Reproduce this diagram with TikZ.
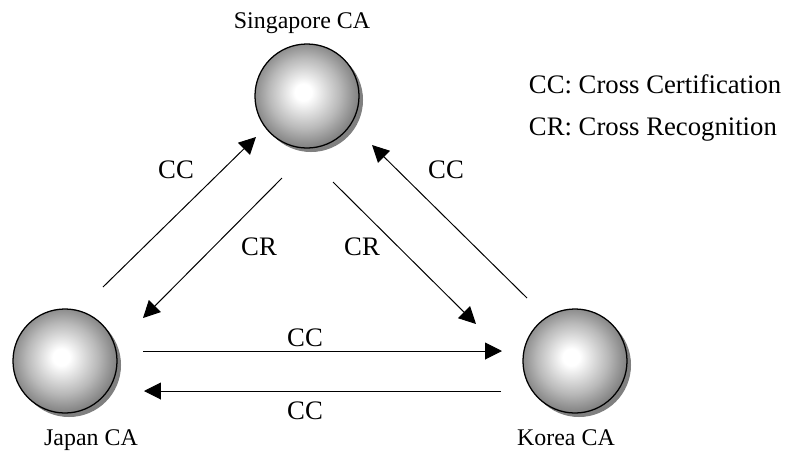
\documentclass[tikz,border=0pt]{standalone}
\usepackage{fontspec}
\setmainfont{Liberation Serif}
\usetikzlibrary{positioning,arrows.meta,shadows}
\pgfdeclareradialshading{casphere}{\pgfpoint{-2bp}{2bp}}{color(0bp)=(white); color(4bp)=(white); color(17bp)=(gray!55); color(27bp)=(gray!95!black); color(50bp)=(gray!95!black)}

\begin{document}
\begin{tikzpicture}[x=0.025cm, y=-0.025cm,
  ca/.style = {draw, circle, line width=0.9pt, minimum size=2.6cm, inner sep=0pt, shading=casphere, drop shadow={shadow xshift=0.1cm, shadow yshift=-0.1cm, fill=gray, opacity=1}},
  calabel/.style = {anchor=base, font=\fontsize{17}{20}\selectfont},
  rel/.style = {-{Triangle[length=12pt,width=12pt]}, line width=0.7pt},
  tag/.style = {font=\fontsize{19}{22}\selectfont}]
\useasboundingbox (0,0) rectangle (785,450);
\node[ca] (sg) at (307,96) {};
\node[ca] (jp) at (65,361) {};
\node[ca] (kr) at (575,361) {};
\node[calabel] (sglbl) at (302,28) {Singapore CA};
\node[calabel] (jplbl) at (91,445) {Japan CA};
\node[calabel] (krlbl) at (566,445) {Korea CA};
% arrow ends
\coordinate (jpsgA) at (103,287);
\coordinate (jpsgB) at (256,137);
\coordinate (sgjpA) at (282,178);
\coordinate (sgjpB) at (143,318);
\coordinate (sgkrA) at (333,182);
\coordinate (sgkrB) at (476,324);
\coordinate (krsgA) at (527,298);
\coordinate (krsgB) at (372,145);
\coordinate (jpkrA) at (143,351);
\coordinate (jpkrB) at (502,351);
\coordinate (krjpA) at (501,391);
\coordinate (krjpB) at (144,391);
\draw[rel] (jpsgA) -- (jpsgB);
\draw[rel] (sgjpA) -- (sgjpB);
\draw[rel] (sgkrA) -- (sgkrB);
\draw[rel] (krsgA) -- (krsgB);
\draw[rel] (jpkrA) -- (jpkrB);
\draw[rel] (krjpA) -- (krjpB);
\node[tag] (cc1) at (176,170) {CC};
\node[tag] (cr1) at (259,247) {CR};
\node[tag] (cr2) at (362,247) {CR};
\node[tag] (cc2) at (446,170) {CC};
\node[tag] (cc3) at (305,338) {CC};
\node[tag] (cc4) at (305,411) {CC};
\node[tag, anchor=base west] (key1) at (524,93) {CC: Cross Certification};
\node[tag, anchor=base west] (key2) at (524,135) {CR: Cross Recognition};
\end{tikzpicture}
\end{document}
